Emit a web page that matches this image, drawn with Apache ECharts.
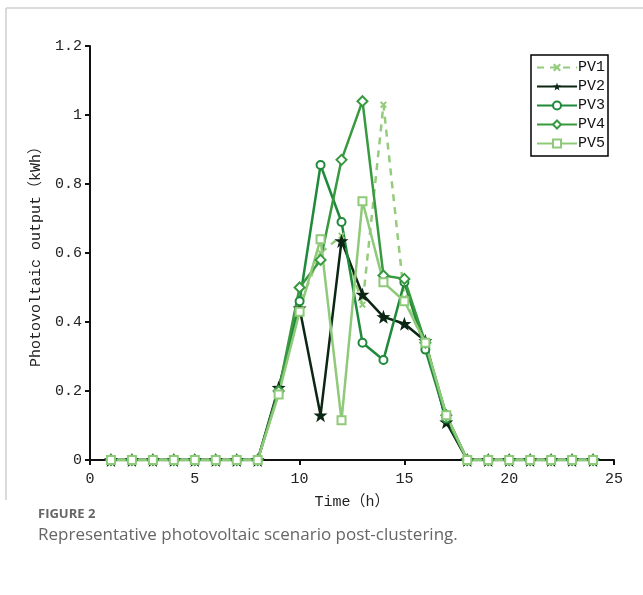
<!DOCTYPE html>
<html>
<head>
<meta charset="utf-8">
<script src="https://cdn.jsdelivr.net/npm/echarts@6/dist/echarts.min.js"></script>
<style>
html,body{margin:0;padding:0;background:#fff;}
#chart{width:643px;height:595px;}
</style>
</head>
<body>
<div id="chart"></div>
<script>
var hours = [1,2,3,4,5,6,7,8,9,10,11,12,13,14,15,16,17,18,19,20,21,22,23,24];
var pv1 = [0,0,0,0,0,0,0,0,0.2,0.45,0.6,0.65,0.45,1.03,0.47,0.33,0.13,0,0,0,0,0,0,0];
var pv2 = [0,0,0,0,0,0,0,0,0.21,0.44,0.13,0.635,0.48,0.415,0.395,0.345,0.11,0,0,0,0,0,0,0];
var pv3 = [0,0,0,0,0,0,0,0,0.2,0.46,0.855,0.69,0.34,0.29,0.515,0.32,0.12,0,0,0,0,0,0,0];
var pv4 = [0,0,0,0,0,0,0,0,0.2,0.5,0.58,0.87,1.04,0.535,0.525,0.34,0.13,0,0,0,0,0,0,0];
var pv5 = [0,0,0,0,0,0,0,0,0.19,0.43,0.64,0.115,0.75,0.515,0.46,0.34,0.13,0,0,0,0,0,0,0];
var seriesNames = ['PV1','PV2','PV3','PV4','PV5'];
var xTicks = [0,5,10,15,20,25];
var yTicks = [0,0.2,0.4,0.6,0.8,1,1.2];

function pairs(vals){ return hours.map(function(h,i){ return [h, vals[i]]; }); }

var starPath = 'path://M0,-10 L2.35,-3.24 L9.51,-3.09 L3.8,1.24 L5.88,8.09 L0,4 L-5.88,8.09 L-3.8,1.24 L-9.51,-3.09 L-2.35,-3.24 Z';
var xPath = 'path://M2,0 L5,3 L8,0 L10,2 L7,5 L10,8 L8,10 L5,7 L2,10 L0,8 L3,5 L0,2 Z';
var mono = '"Liberation Mono","DejaVu Sans Mono","Noto Sans CJK SC",monospace';

var chart = echarts.init(document.getElementById('chart'));
chart.setOption({
  backgroundColor: '#fff',
  animation: false,
  grid: {left: 90, right: 29, top: 46, bottom: 135, containLabel: false},
  legend: {
    orient: 'vertical',
    right: 35, top: 55,
    itemWidth: 40, itemHeight: 10, itemGap: 4,
    borderColor: '#000', borderWidth: 1.5, borderRadius: 0,
    padding: [5, 3, 5, 5],
    textStyle: {fontFamily: mono, fontSize: 15, color: '#111', padding: [0,0,0,-4]},
    data: seriesNames
  },
  xAxis: {
    type: 'value', min: 0, max: 25, interval: 5,
    name: 'Time（h）', nameLocation: 'middle', nameGap: 35,
    nameTextStyle: {fontFamily: mono, fontSize: 15, color: '#222'},
    axisLine: {show: true, onZero: false, lineStyle: {color: '#111', width: 2}},
    axisTick: {show: true, length: 5, lineStyle: {color: '#111', width: 2}},
    axisLabel: {fontFamily: mono, fontSize: 15, color: '#222', margin: 12},
    splitLine: {show: false}
  },
  yAxis: {
    type: 'value', min: 0, max: 1.2, interval: 0.2,
    name: 'Photovoltaic output（kWh）', nameLocation: 'middle', nameGap: 46,
    nameTextStyle: {fontFamily: mono, fontSize: 15, color: '#222'},
    axisLine: {show: true, lineStyle: {color: '#111', width: 2}},
    axisTick: {show: true, length: 5, lineStyle: {color: '#111', width: 2}},
    axisLabel: {fontFamily: mono, fontSize: 15, color: '#222', margin: 8,
      formatter: function(v){ return String(Math.round(v*10)/10); }},
    splitLine: {show: false}
  },
  graphic: [
    {type: 'line', shape: {x1: 6, y1: 8, x2: 643, y2: 8}, style: {stroke: '#cfcfcf', lineWidth: 1.5}},
    {type: 'line', shape: {x1: 6, y1: 8, x2: 6, y2: 500}, style: {stroke: '#cfcfcf', lineWidth: 1.5}},
    {type: 'text', left: 38, top: 508, style: {text: 'FIGURE 2', font: 'bold 13px "Open Sans", sans-serif', fill: '#666'}},
    {type: 'text', left: 38, top: 527, style: {text: 'Representative photovoltaic scenario post-clustering.', font: '17px "Open Sans", sans-serif', fill: '#666'}}
  ],
  series: [
    {name: 'PV1', type: 'line', data: pairs(pv1), symbol: xPath, symbolSize: 7,
     lineStyle: {color: '#94cc7c', width: 2.5, type: [7, 6]}, itemStyle: {color: '#94cc7c'}},
    {name: 'PV2', type: 'line', data: pairs(pv2), symbol: starPath, symbolSize: 14,
     lineStyle: {color: '#0b2613', width: 2.5}, itemStyle: {color: '#0b2613'}},
    {name: 'PV3', type: 'line', data: pairs(pv3), symbol: 'emptyCircle', symbolSize: 8,
     lineStyle: {color: '#1f8a3b', width: 2.5}, itemStyle: {color: '#1f8a3b', borderWidth: 2}},
    {name: 'PV4', type: 'line', data: pairs(pv4), symbol: 'emptyDiamond', symbolSize: 10,
     lineStyle: {color: '#38993f', width: 2.5}, itemStyle: {color: '#38993f', borderWidth: 2}},
    {name: 'PV5', type: 'line', data: pairs(pv5), symbol: 'emptyRect', symbolSize: 8,
     lineStyle: {color: '#8fc97a', width: 2.5}, itemStyle: {color: '#8fc97a', borderWidth: 2}}
  ]
});
</script>
</body>
</html>
